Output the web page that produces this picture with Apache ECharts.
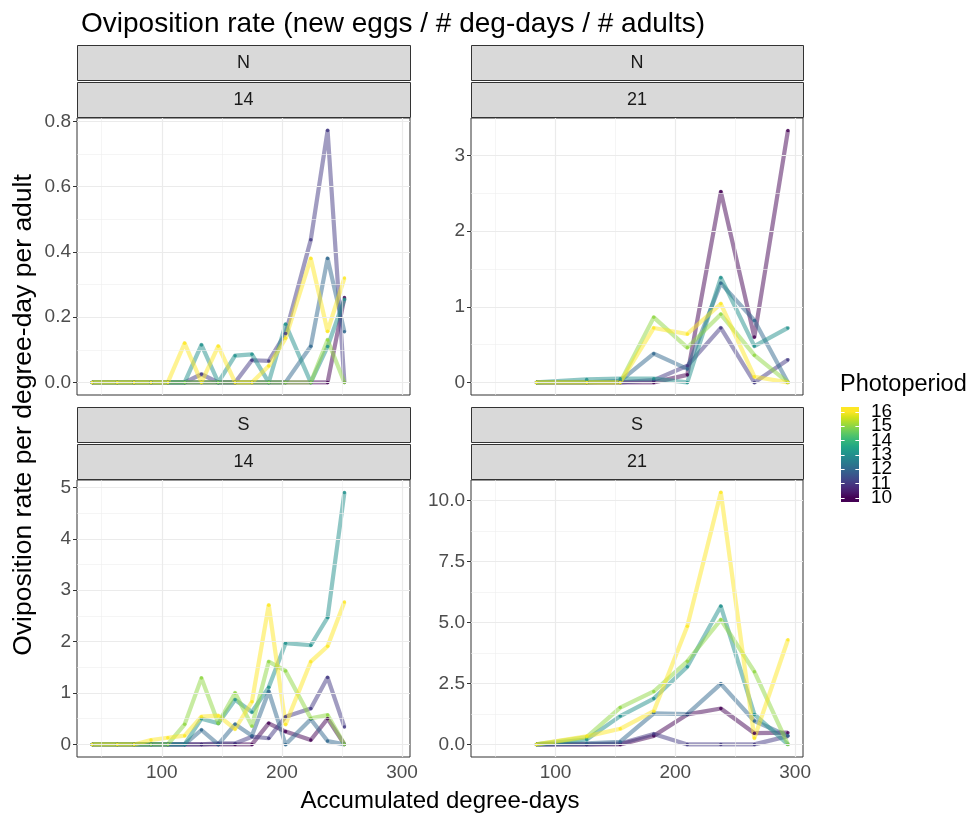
<!DOCTYPE html>
<html>
<head>
<meta charset="utf-8">
<script src="https://cdn.jsdelivr.net/npm/echarts@6/dist/echarts.min.js"></script>
<style>
  html, body { margin: 0; padding: 0; background: #ffffff; }
  #chart { width: 971px; height: 816px; }
</style>
</head>
<body>
<div id="chart"></div>
<script>
// ---- data -------------------------------------------------------------
const photoperiods = [10, 11, 12, 13, 14, 15, 16];

// accumulated degree-days at each count
const ddays14 = [42, 63, 77, 91, 105, 119, 133, 147, 161, 175, 189, 203, 224, 238, 252];
const ddays21 = [84, 126, 154, 182, 210, 238, 266, 294];

// N, 14
const n14P10 = [0, 0, 0, 0, 0, 0, 0, 0, 0, 0, 0, 0, 0, 0, 0.26];
const n14P11 = [0, 0, 0, 0, 0, 0, 0.025, 0, 0, 0.068, 0.066, 0.15, 0.437, 0.772, 0];
const n14P12 = [0, 0, 0, 0, 0, 0, 0, 0, 0, 0, 0, 0, 0.111, 0.38, 0.155];
const n14P13 = [0, 0, 0, 0, 0, 0, 0.115, 0, 0.082, 0.086, 0, 0.178, 0, 0.11, 0.255];
const n14P15 = [0, 0, 0, 0, 0, 0, 0, 0, 0, 0, 0, 0, 0, 0.13, 0];
const n14P16 = [0, 0, 0, 0, 0, 0.12, 0, 0.111, 0, 0, 0.05, 0.135, 0.38, 0.157, 0.32];

// N, 21
const n21P10 = [0, 0, 0, 0, 0.10, 2.52, 0.60, 3.33];
const n21P11 = [0, 0, 0, 0.03, 0.22, 0.72, 0, 0.30];
const n21P12 = [0, 0, 0.02, 0.38, 0.18, 1.31, 0.82, 0];
const n21P13 = [0, 0.04, 0.05, 0.05, 0, 1.385, 0.48, 0.72];
const n21P15 = [0, 0, 0, 0.86, 0.46, 0.90, 0.36, 0];
const n21P16 = [0, 0, 0, 0.72, 0.64, 1.04, 0.075, 0];

// S, 14
const s14P10 = [0, 0, 0, 0, 0, 0, 0, 0, 0, 0, 0.41, 0.25, 0.085, 0.50, 0];
const s14P11 = [0, 0, 0, 0, 0, 0, 0, 0.02, 0.02, 0.15, 0.12, 0.54, 0.70, 1.30, 0.34];
const s14P12 = [0, 0, 0, 0, 0, 0, 0.28, 0, 0.39, 0.17, 1.03, 0, 0.49, 0.065, 0];
const s14P13 = [0, 0, 0, 0, 0, 0, 0.50, 0.41, 0.87, 0.63, 1.11, 1.97, 1.93, 2.47, 4.90];
const s14P15 = [0, 0, 0, 0, 0, 0.39, 1.29, 0.41, 1.00, 0.36, 1.61, 1.43, 0.51, 0.57, 0];
const s14P16 = [0, 0, 0, 0.085, 0.13, 0.17, 0.54, 0.56, 0.30, 0.83, 2.71, 0.39, 1.61, 1.91, 2.77];

// S, 21
const s21P10 = [0, 0, 0, 0.35, 1.23, 1.47, 0.46, 0.48];
const s21P11 = [0, 0, 0.04, 0.43, 0, 0, 0, 0.34];
const s21P12 = [0, 0.04, 0.11, 1.27, 1.24, 2.48, 0.96, 0.35];
const s21P13 = [0, 0.20, 1.16, 1.88, 3.18, 5.66, 1.23, 0];
const s21P15 = [0, 0.30, 1.51, 2.17, 3.41, 5.11, 2.98, 0];
const s21P16 = [0, 0.33, 0.64, 1.36, 4.84, 10.32, 0.26, 4.29];

// tick labels
const xTicks = [100, 200, 300];
const yTicksN14 = [0, 0.2, 0.4, 0.6, 0.8];
const yTicksN21 = [0, 1, 2, 3];
const yTicksS14 = [0, 1, 2, 3, 4, 5];
const yTicksS21 = [0, 2.5, 5, 7.5, 10];

// ---- styling helpers ---------------------------------------------------
const FONT = '"Liberation Sans", Arial, Helvetica, sans-serif';
const viridisStops = ['#440154', '#481A6C', '#472F7D', '#414487', '#39568C', '#31688E',
  '#2A788E', '#23888E', '#1F988B', '#22A884', '#35B779', '#54C568', '#7AD151',
  '#A5DB36', '#D2E21B', '#FDE725'];
const periodColour = {10: '#440154', 11: '#443A83', 12: '#31688E', 13: '#21908C',
  14: '#35B779', 15: '#8FD744', 16: '#FDE725'};

const panels = [
  { strip: ['N', '14'], x: ddays14, ticks: yTicksN14, dec: 1,
    lines: [[10, n14P10], [11, n14P11], [12, n14P12], [13, n14P13], [15, n14P15], [16, n14P16]] },
  { strip: ['N', '21'], x: ddays21, ticks: yTicksN21, dec: 0,
    lines: [[10, n21P10], [11, n21P11], [12, n21P12], [13, n21P13], [15, n21P15], [16, n21P16]] },
  { strip: ['S', '14'], x: ddays14, ticks: yTicksS14, dec: 0,
    lines: [[10, s14P10], [11, s14P11], [12, s14P12], [13, s14P13], [15, s14P15], [16, s14P16]] },
  { strip: ['S', '21'], x: ddays21, ticks: yTicksS21, dec: 1,
    lines: [[10, s21P10], [11, s21P11], [12, s21P12], [13, s21P13], [15, s21P15], [16, s21P16]] }
];

const boxes = [
  { left: 77, top: 118, width: 333, height: 277 },
  { left: 471, top: 118, width: 332, height: 277 },
  { left: 77, top: 480, width: 333, height: 277 },
  { left: 471, top: 480, width: 332, height: 277 }
];
const STRIP_H = 36;

// shared x range with 5% padding on each side
const allX = ddays14.concat(ddays21);
const xLo = Math.min(...allX), xHi = Math.max(...allX);
const xPad = (xHi - xLo) * 0.05;
const xMin = xLo - xPad, xMax = xHi + xPad;

function midpoints(ticks, lo, hi) {
  const step = ticks[1] - ticks[0];
  const out = [];
  for (let v = ticks[0] - step / 2; v <= hi; v += step) {
    if (v >= lo && ticks.indexOf(v) < 0) out.push(v);
  }
  return out;
}

const grid = [], xAxis = [], yAxis = [], series = [], graphic = [];

panels.forEach((pn, i) => {
  const b = boxes[i];
  const bottomRow = i >= 2;
  const vals = pn.lines.reduce((a, l) => a.concat(l[1]), []);
  const vHi = Math.max(...vals), vLo = Math.min(...vals);
  const yPad = (vHi - vLo) * 0.05;
  const yMin = vLo - yPad, yMax = vHi + yPad;

  grid.push({ left: b.left, top: b.top, width: b.width, height: b.height,
    show: true, borderColor: '#333333', borderWidth: 1, backgroundColor: '#ffffff' });

  xAxis.push({
    type: 'value', gridIndex: i, min: xMin, max: xMax,
    axisLine: { show: false },
    axisTick: { show: bottomRow, length: 4, customValues: xTicks,
      lineStyle: { color: '#333333', width: 1 } },
    axisLabel: { show: bottomRow, customValues: xTicks, color: '#4D4D4D',
      fontSize: 19, fontFamily: FONT, margin: 6 },
    splitLine: { show: false }
  });

  yAxis.push({
    type: 'value', gridIndex: i, min: yMin, max: yMax,
    axisLine: { show: false },
    axisTick: { show: true, length: 4, customValues: pn.ticks,
      lineStyle: { color: '#333333', width: 1 } },
    axisLabel: { customValues: pn.ticks, color: '#4D4D4D', fontSize: 19,
      fontFamily: FONT, margin: 6, formatter: v => Number(v).toFixed(pn.dec) },
    splitLine: { show: false }
  });

  // panel grid lines (minor then major)
  const gl = [];
  midpoints(xTicks, xMin, xMax).forEach(v => gl.push({ xAxis: v, lineStyle: { width: 0.6, color: '#EFEFEF' } }));
  midpoints(pn.ticks, yMin, yMax).forEach(v => gl.push({ yAxis: v, lineStyle: { width: 0.6, color: '#EFEFEF' } }));
  xTicks.forEach(v => gl.push({ xAxis: v, lineStyle: { width: 1.2, color: '#EBEBEB' } }));
  pn.ticks.forEach(v => gl.push({ yAxis: v, lineStyle: { width: 1.2, color: '#EBEBEB' } }));
  series.push({
    type: 'line', xAxisIndex: i, yAxisIndex: i, data: [], silent: true, z: 1,
    animation: false,
    markLine: { silent: true, symbol: ['none', 'none'], animation: false,
      label: { show: false }, emphasis: { disabled: true },
      lineStyle: { type: 'solid' }, data: gl }
  });

  // one line per photoperiod
  pn.lines.forEach(([p, v]) => {
    const c = periodColour[p];
    series.push({
      type: 'line', name: String(p), xAxisIndex: i, yAxisIndex: i, z: 3,
      data: pn.x.map((x, k) => [x, v[k]]),
      symbol: 'circle', symbolSize: 3.5, showSymbol: true, showAllSymbol: true,
      lineStyle: { color: c, width: 4.2, opacity: 0.5, join: 'round' },
      itemStyle: { color: c, opacity: 0.85, borderWidth: 0 },
      emphasis: { disabled: true }, animation: false
    });
  });

  // facet strips
  pn.strip.forEach((label, s) => {
    const y = b.top - (2 - s) * STRIP_H - (1 - s);
    graphic.push({
      type: 'rect', silent: true,
      shape: { x: b.left + 0.5, y: y + 0.5, width: b.width, height: STRIP_H - 1 },
      style: { fill: '#D9D9D9', stroke: '#333333', lineWidth: 1 }
    });
    graphic.push({
      type: 'text', silent: true, x: b.left + b.width / 2, y: y + STRIP_H / 2,
      style: { text: label, fill: '#1A1A1A', font: '18px ' + FONT,
        align: 'center', verticalAlign: 'middle' }
    });
  });
});

// axis titles
graphic.push({
  type: 'text', silent: true, x: 440, y: 801,
  style: { text: 'Accumulated degree-days', fill: '#000000', font: '24px ' + FONT,
    align: 'center', verticalAlign: 'middle' }
});
graphic.push({
  type: 'text', silent: true, x: 24, y: 415, rotation: Math.PI / 2,
  style: { text: 'Oviposition rate per degree-day per adult', fill: '#000000',
    font: '26.5px ' + FONT, align: 'center', verticalAlign: 'middle' }
});

// colour bar legend
const barX = 841, barW = 18, barTop = 407, barH = 95;
const pTop = 411.7, pBottom = 497.7;
const pMin = photoperiods[0], pMax = photoperiods[photoperiods.length - 1];
const pY = p => pBottom - (p - pMin) / (pMax - pMin) * (pBottom - pTop);
const off0 = (barTop + barH - pBottom) / barH, off1 = (barTop + barH - pTop) / barH;
const gradStops = viridisStops.map((c, k) => ({
  offset: off0 + k / (viridisStops.length - 1) * (off1 - off0), color: c }));
gradStops.unshift({ offset: 0, color: viridisStops[0] });
gradStops.push({ offset: 1, color: viridisStops[viridisStops.length - 1] });

graphic.push({
  type: 'text', silent: true, x: 840, y: 385,
  style: { text: 'Photoperiod', fill: '#000000', font: '23.5px ' + FONT,
    align: 'left', verticalAlign: 'middle' }
});
graphic.push({
  type: 'rect', silent: true,
  shape: { x: barX, y: barTop, width: barW, height: barH },
  style: { fill: new echarts.graphic.LinearGradient(0, 1, 0, 0, gradStops) }
});
photoperiods.forEach(p => {
  const y = Math.round(pY(p)) + 0.5;
  graphic.push({ type: 'line', silent: true,
    shape: { x1: barX, y1: y, x2: barX + barW / 5, y2: y },
    style: { stroke: '#ffffff', lineWidth: 1 } });
  graphic.push({ type: 'line', silent: true,
    shape: { x1: barX + barW * 4 / 5, y1: y, x2: barX + barW, y2: y },
    style: { stroke: '#ffffff', lineWidth: 1 } });
  graphic.push({ type: 'text', silent: true, x: 871, y: pY(p),
    style: { text: String(p), fill: '#000000', font: '19px ' + FONT,
      align: 'left', verticalAlign: 'middle' } });
});

const chart = echarts.init(document.getElementById('chart'), null, { renderer: 'canvas' });
chart.setOption({
  animation: false,
  backgroundColor: '#ffffff',
  title: {
    text: 'Oviposition rate (new eggs / # deg-days / # adults)',
    left: 76, top: 5,
    textStyle: { fontSize: 28, fontWeight: 'normal', color: '#000000', fontFamily: FONT }
  },
  grid, xAxis, yAxis, series, graphic
});
</script>
</body>
</html>
